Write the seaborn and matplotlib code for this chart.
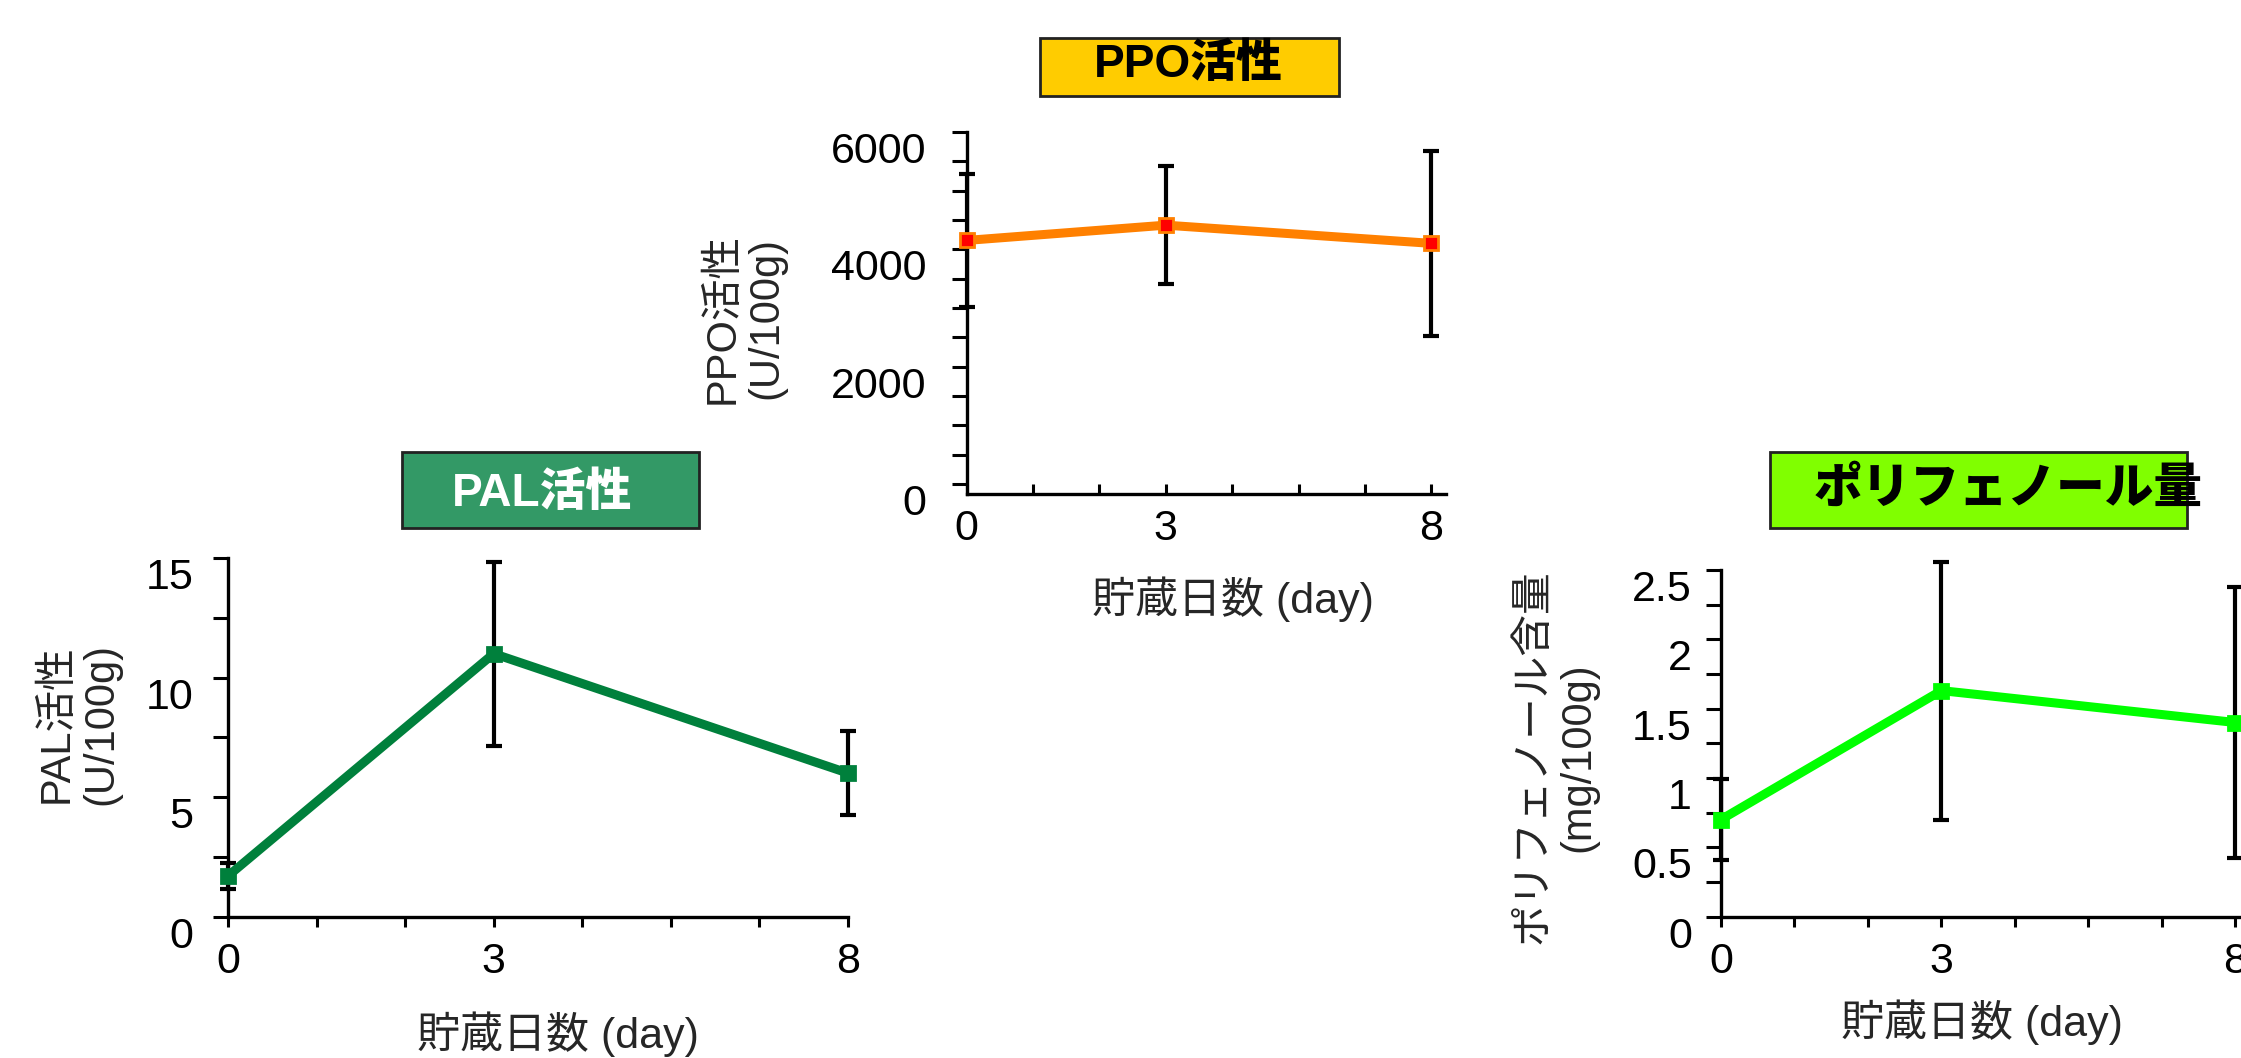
import numpy as np
import matplotlib
matplotlib.use("Agg")
import matplotlib.pyplot as plt
from matplotlib.patches import Rectangle
import seaborn as sns

# storage days and x tick labels (one tick per slot on the axis)
days = [0, 3, 8]
x_ticklabels = ["0", "", "", "3", "", "", "", "8"]

# PAL activity (U/100g)
pal_mean = [1.7, 11.0, 6.0]
pal_sd = [0.55, 3.85, 1.75]
pal_yticks = [0, 2.5, 5, 7.5, 10, 12.5, 15]
pal_yticklabels = ["0", "", "5", "", "10", "", "15"]

# PPO activity (U/100g)
ppo_mean = [4150, 4410, 4100]
ppo_sd = [1135, 1000, 1570]
ppo_yticks = list(range(0, 6001, 500))
ppo_yticklabels = ["0", "", "", "", "2000", "", "", "", "4000", "", "", "", "6000"]

# polyphenol content (mg/100g)
poly_mean = [0.70, 1.63, 1.40]
poly_sd = [0.29, 0.93, 0.98]
poly_yticks = [0, 0.25, 0.5, 0.75, 1, 1.25, 1.5, 1.75, 2, 2.25, 2.5]
poly_yticklabels = ["0", "", "0.5", "", "1", "", "1.5", "", "2", "", "2.5"]

sns.set_style("ticks")
plt.rcParams["font.family"] = ["Liberation Sans", "Noto Sans CJK JP"]


# the day axis is stretched so day 3 sits on the 3rd slot and day 8 on the 7th
def day_to_pos(x):
    x = np.asarray(x, dtype=float)
    return np.where(x <= 3, x, 3 + (x - 3) * 0.8)


def pos_to_day(p):
    p = np.asarray(p, dtype=float)
    return np.where(p <= 3, p, 3 + (p - 3) * 1.25)


W, H = 2241, 1058
fig = plt.figure(figsize=(W / 100, H / 100), dpi=100)


def px_axes(left, top, right, bottom):
    return fig.add_axes([left / W, 1 - bottom / H, (right - left) / W, (bottom - top) / H])


def title_box(x0, y0, x1, y1, text, face, tcolor, tx, ty, size=33):
    fig.add_artist(Rectangle((x0 / W, 1 - y1 / H), (x1 - x0) / W, (y1 - y0) / H,
                             transform=fig.transFigure, facecolor=face,
                             edgecolor="#222222", lw=2, zorder=1))
    fig.text(tx / W, 1 - ty / H, text, ha="center", va="center", fontsize=size,
             fontweight="heavy", color=tcolor, zorder=2)


def panel(ax, mean, sd, color, mface, yticks, yticklabels, ylim, xmax_pos,
          ylabel, ylab_xy, xlab_xy, ypad, xdir="out"):
    ax.errorbar(days, mean, yerr=sd, fmt="none", ecolor="black", elinewidth=3,
                capsize=6, capthick=3, clip_on=False, zorder=2)
    sns.lineplot(x=days, y=mean, ax=ax, color=color, linewidth=6.5, marker="s",
                 markersize=10, markerfacecolor=mface, markeredgecolor=color,
                 markeredgewidth=2, clip_on=False, zorder=3)
    ax.set_xscale("function", functions=(day_to_pos, pos_to_day))
    ax.set_xlim(0, float(pos_to_day(xmax_pos)))
    ax.set_xticks(pos_to_day(np.arange(8)))
    ax.set_xticklabels(x_ticklabels)
    ax.set_ylim(*ylim)
    ax.set_yticks(yticks)
    ax.set_yticklabels(yticklabels)
    ax.minorticks_off()
    sns.despine(ax=ax)
    for side in ["left", "bottom"]:
        ax.spines[side].set_linewidth(2.4)
        ax.spines[side].set_color("black")
    ax.tick_params(axis="y", direction="out", length=11, width=2.2, pad=ypad,
                   labelsize=31, colors="black")
    ax.tick_params(axis="x", direction=xdir, length=7, width=2.2, pad=11,
                   labelsize=31, colors="black")
    for lbl in ax.get_yticklabels():
        lbl.set_va("top")
    ax.set_ylabel(ylabel, fontsize=30, va="center", linespacing=1.15)
    ax.yaxis.set_label_coords(*ylab_xy)
    ax.set_xlabel("貯蔵日数 (day)", fontsize=31, va="center")
    ax.xaxis.set_label_coords(*xlab_xy)
    ax.patch.set_alpha(0)


ax_pal = px_axes(228, 558, 848, 916.6)
panel(ax_pal, pal_mean, pal_sd, "#00803C", "#00803C", pal_yticks, pal_yticklabels,
      (0, 15), 7.0, "PAL活性\n(U/100g)", (-0.24, 0.537), (0.532, -0.329), 14)

ax_ppo = px_axes(966.5, 131.8, 1446, 493.5)
panel(ax_ppo, ppo_mean, ppo_sd, "#FF8000", "#FF0000", ppo_yticks, ppo_yticklabels,
      (-160, 6000), 7.22, "PPO活性\n(U/100g)", (-0.463, 0.485), (0.556, -0.292), 18,
      xdir="in")

ax_poly = px_axes(1721, 570, 2250, 916.6)
panel(ax_poly, poly_mean, poly_sd, "#00FF00", "#00FF00", poly_yticks, poly_yticklabels,
      (0, 2.5), 7.2, "ポリフェノール含量\n(mg/100g)", (-0.312, 0.461), (0.494, -0.306), 10)

title_box(402, 452, 699, 528, "PAL活性", "#339966", "white", 542, 494)
title_box(1040, 38, 1339, 96, "PPO活性", "#FFCC00", "black", 1188, 65)
title_box(1770, 452, 2187, 528, "ポリフェノール量", "#80FF00", "black", 2008, 490, size=35)

fig.savefig("out.png", dpi=100)
